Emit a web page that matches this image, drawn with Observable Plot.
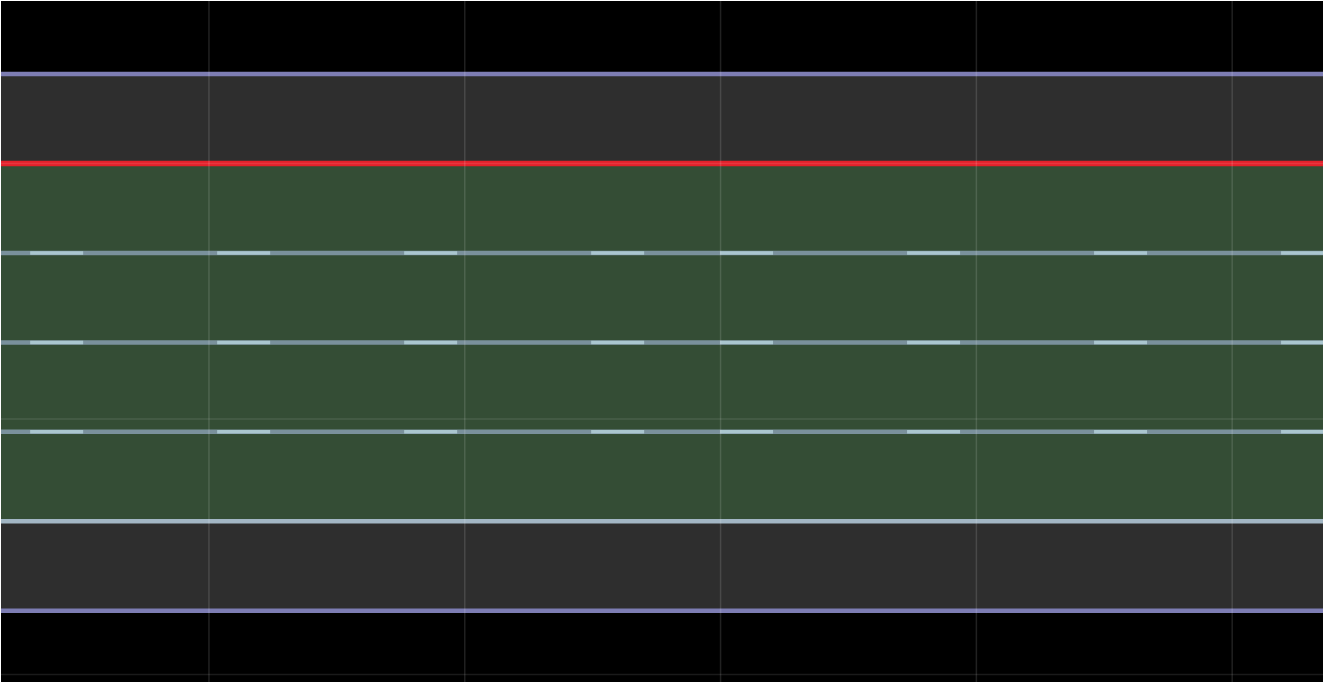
<!DOCTYPE html>
<html>
<head>
<meta charset="utf-8">
<script src="https://cdn.jsdelivr.net/npm/d3@7"></script>
<script src="https://cdn.jsdelivr.net/npm/@observablehq/plot@0.6"></script>
<style>
  html, body { margin: 0; padding: 0; background: #ffffff; }
  #chart { position: absolute; left: 1px; top: 1px; width: 1322px; height: 681px; overflow: hidden; background: #000; }
  svg { display: block; }
</style>
</head>
<body>
<div id="chart"></div>
<script>
// Road cross-section (metres), lane width 3.5 m, grid every 10 m
const xDomain = [-28.11, 23.57];
const yDomain = [-20.31, 6.34];

const gridX = [-20, -10, 0, 10, 20];
const gridY = [0, -10, -20];

const bandTop = [3.5, 0, -14];
const bandBottom = [0, -14, -17.5];
const bandKind = ["shoulder", "lane", "shoulder"];

const outerEdges = [3.5, -17.5];
const centerLine = [0];
const laneDividers = [-3.5, -7, -10.5];
const innerEdge = [-14];

const dashStartLeft = -26.97;
const dashRestart = 0;

const bands = bandTop.map((t, i) => ({ top: t, bottom: bandBottom[i], kind: bandKind[i] }));
const leftDash = laneDividers.map(y => ({ y, x1: dashStartLeft, x2: dashRestart }));
const rightDash = laneDividers.map(y => ({ y, x1: dashRestart, x2: xDomain[1] }));

const chart = Plot.plot({
  width: 1322,
  height: 681,
  margin: 0,
  style: { background: "#000000" },
  x: { domain: xDomain, axis: null },
  y: { domain: yDomain, axis: null },
  color: { domain: ["shoulder", "lane"], range: ["#2e2e2e", "#344d35"] },
  marks: [
    Plot.rect(bands, { y1: "top", y2: "bottom", fill: "kind" }),
    Plot.ruleY(laneDividers, { stroke: "#7a919c", strokeWidth: 4.5 }),
    Plot.ruleY(leftDash, { y: "y", x1: "x1", x2: "x2", stroke: "#aac6cf", strokeWidth: 3.5, strokeDasharray: "53,134" }),
    Plot.ruleY(rightDash, { y: "y", x1: "x1", x2: "x2", stroke: "#aac6cf", strokeWidth: 3.5, strokeDasharray: "53,134" }),
    Plot.ruleY(innerEdge, { stroke: "#a2b6c4", strokeWidth: 4.5 }),
    Plot.ruleY(outerEdges, { stroke: "#7d7db3", strokeWidth: 4.5 }),
    Plot.ruleY(centerLine, { stroke: "#e3202a", strokeWidth: 5.5 }),
    Plot.ruleX(gridX, { stroke: "#ffffff", strokeOpacity: 0.13, strokeWidth: 1.5 }),
    Plot.ruleY(gridY, { stroke: "#ffffff", strokeOpacity: 0.1, strokeWidth: 1.5 })
  ]
});
document.getElementById("chart").appendChild(chart);
</script>
</body>
</html>
